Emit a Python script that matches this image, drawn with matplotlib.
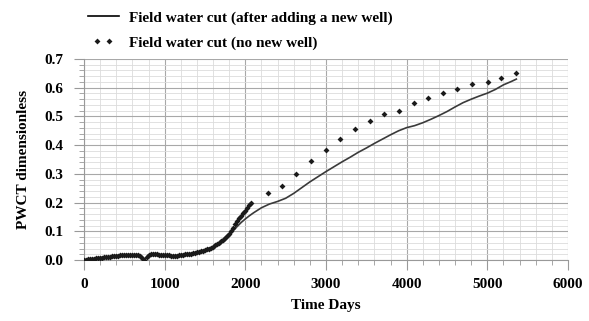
import numpy as np
import matplotlib
matplotlib.use("Agg")
import matplotlib.pyplot as plt
from matplotlib.ticker import MultipleLocator
from matplotlib.legend_handler import HandlerLine2D

plt.rcParams['font.family'] = ['Liberation Serif', 'DejaVu Serif']
plt.rcParams['font.weight'] = 'bold'

# field water cut, no new well - dense part (history, every 25 days)
days_base = list(range(0, 2100, 25))
wc_base = [0.000, 0.001, 0.002, 0.003, 0.004, 0.005, 0.006, 0.007, 0.008, 0.008,
           0.009, 0.010, 0.011, 0.012, 0.013, 0.014, 0.015, 0.015, 0.016, 0.016,
           0.017, 0.017, 0.017, 0.017, 0.017, 0.017, 0.017, 0.016, 0.013, 0.006,
           0.001, 0.010, 0.018, 0.020, 0.021, 0.021, 0.020, 0.019, 0.018, 0.018,
           0.017, 0.017, 0.016, 0.015, 0.014, 0.014, 0.015, 0.017, 0.018, 0.019,
           0.020, 0.020, 0.021, 0.022, 0.024, 0.025, 0.027, 0.029, 0.031, 0.033,
           0.036, 0.038, 0.040, 0.043, 0.046, 0.051, 0.056, 0.060, 0.065, 0.071,
           0.078, 0.085, 0.092, 0.102, 0.112, 0.124, 0.135, 0.145, 0.155, 0.164,
           0.172, 0.181, 0.190, 0.198]

# field water cut, no new well - sparse forecast points
days_fc = [2280, 2457, 2634, 2815, 3000, 3177, 3358, 3543, 3720, 3905, 4090,
           4267, 4453, 4625, 4810, 5004, 5173, 5358]
wc_fc = [0.235, 0.259, 0.299, 0.346, 0.383, 0.420, 0.455, 0.484, 0.508, 0.519,
         0.548, 0.563, 0.581, 0.596, 0.613, 0.621, 0.635, 0.650]

# field water cut after adding a new well
days_new = [0, 100, 200, 300, 400, 500, 600, 700, 750, 800, 900, 1000, 1100,
            1200, 1300, 1400, 1500, 1600, 1700, 1800, 1850, 1900, 1950, 2000,
            2050, 2100, 2200, 2300, 2400, 2500, 2600, 2700, 2800, 2900, 3000,
            3100, 3200, 3300, 3400, 3500, 3600, 3700, 3800, 3900, 4000, 4100,
            4200, 4300, 4400, 4500, 4600, 4700, 4800, 4900, 5000, 5100, 5200,
            5300, 5360]
wc_new = [0.000, 0.004, 0.008, 0.011, 0.015, 0.017, 0.017, 0.012, 0.001, 0.018,
          0.020, 0.017, 0.014, 0.018, 0.021, 0.027, 0.036, 0.046, 0.065, 0.090,
          0.103, 0.117, 0.131, 0.143, 0.154, 0.164, 0.182, 0.195, 0.204, 0.215,
          0.232, 0.252, 0.272, 0.290, 0.308, 0.325, 0.342, 0.358, 0.375, 0.390,
          0.406, 0.421, 0.436, 0.450, 0.461, 0.468, 0.478, 0.490, 0.503, 0.517,
          0.533, 0.548, 0.560, 0.571, 0.581, 0.594, 0.610, 0.622, 0.630]

fig = plt.figure(figsize=(5.89, 3.21), dpi=100)
ax = fig.add_axes([0.1426, 0.19, 0.8217, 0.6262])

ln, = ax.plot(days_new, wc_new, color='#3a3a3a', lw=1.2,
              label='Field water cut (after adding a new well)', zorder=3)
dots, = ax.plot(days_base, wc_base, 'D', color='#1a1a1a', ms=3, mew=0,
                label='Field water cut (no new well)', zorder=4)
ax.plot(days_fc, wc_fc, 'D', color='#1a1a1a', ms=3, mew=0, zorder=4)

ax.set_xlim(0, 6000)
ax.set_ylim(0, 0.7)
ax.xaxis.set_major_locator(MultipleLocator(1000))
ax.xaxis.set_minor_locator(MultipleLocator(200))
ax.yaxis.set_major_locator(MultipleLocator(0.1))
ax.yaxis.set_minor_locator(MultipleLocator(0.02))
ax.yaxis.set_major_formatter(plt.FormatStrFormatter('%.1f'))

ax.grid(which='major', color='#a8a8a8', lw=0.8)
ax.grid(which='minor', color='#dcdcdc', lw=0.6)
ax.set_axisbelow(True)
for s in ['top', 'right']:
    ax.spines[s].set_visible(False)
for s in ['left', 'bottom']:
    ax.spines[s].set_color('#999999')

ax.tick_params(which='major', length=7, color='#999999', labelsize=11, pad=8)
ax.tick_params(which='minor', length=3.5, color='#999999')
ax.tick_params(axis='x', pad=6)

ax.set_xlabel('Time Days', fontsize=11, fontweight='bold', labelpad=6)
ax.set_ylabel('PWCT dimensionless', fontsize=11, fontweight='bold', labelpad=10)

leg = fig.legend(handles=[ln, dots], loc='upper left',
                 bbox_to_anchor=(88 / 589, 1 - 11 / 321),
                 frameon=False, fontsize=11, handlelength=2.0,
                 labelspacing=0.72, handletextpad=0.7, borderpad=0, borderaxespad=0,
                 handler_map={dots: HandlerLine2D(numpoints=2, marker_pad=0.6)})
leg.get_lines()[0].set_color('black')

fig.savefig('out.png', dpi=100)
